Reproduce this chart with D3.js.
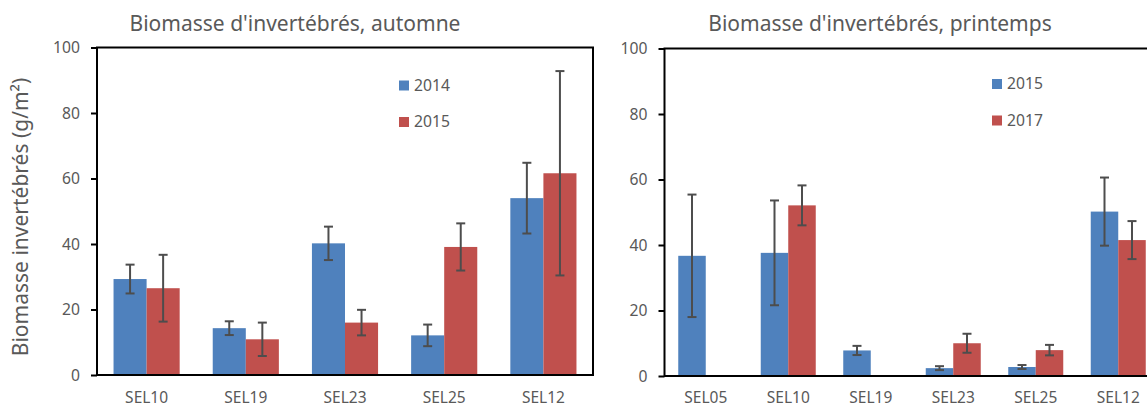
<!DOCTYPE html>
<html><head><meta charset="utf-8">
<script src="https://cdn.jsdelivr.net/npm/d3@7"></script>
<style>
html,body{margin:0;padding:0;background:#fff;}
svg text{font-family:"Noto Sans","Open Sans",sans-serif;fill:#595959;}
</style></head>
<body>
<svg id="chart" width="1147" height="407"></svg>
<script>
// ---- data ----
const autumnCategories = ["SEL10","SEL19","SEL23","SEL25","SEL12"];
const autumnSeriesNames = ["2014","2015"];
const autumn2014 = [29.3, 14.3, 40.2, 12.1, 54.0];
const autumn2014Err = [4.4, 2.1, 5.1, 3.3, 10.8];
const autumn2015 = [26.5, 10.9, 16.0, 39.1, 61.6];
const autumn2015Err = [10.2, 5.1, 3.9, 7.2, 31.2];

const springCategories = ["SEL05","SEL10","SEL19","SEL23","SEL25","SEL12"];
const springSeriesNames = ["2015","2017"];
const spring2015 = [36.7, 37.6, 7.8, 2.4, 2.75, 50.2];
const spring2015Err = [18.7, 16.0, 1.4, 0.6, 0.6, 10.4];
const spring2017 = [null, 52.1, null, 10.0, 7.9, 41.5];
const spring2017Err = [null, 6.1, null, 2.9, 1.6, 5.8];

const yTicks = [0, 20, 40, 60, 80, 100];
const titles = ["Biomasse d'invertébrés, automne", "Biomasse d'invertébrés, printemps"];
const yLabel = "Biomasse invertébrés (g/m²)";

// ---- styling ----
const colors = ["#4F81BD", "#C0504D"];
const gray = "#595959";
const errColor = "#4D4D4D";

const svg = d3.select("#chart");

function drawPanel(cfg, cats, names, vA, eA, vB, eB, title) {
  const g = svg.append("g");
  const x = d3.scaleBand().domain(cats).range([cfg.x0, cfg.x1])
    .paddingInner(1/3).paddingOuter(1/6);
  const xs = d3.scaleBand().domain([0,1]).range([0, x.bandwidth()]);
  const y = d3.scaleLinear().domain([0, 100]).range([cfg.y1, cfg.y0]);

  const rows = [];
  cats.forEach((c, i) => {
    rows.push({c, s: 0, v: vA[i], e: eA[i]});
    rows.push({c, s: 1, v: vB[i], e: eB[i]});
  });
  const valid = rows.filter(d => d.v != null);

  g.selectAll("rect.bar").data(valid).join("rect")
    .attr("class","bar")
    .attr("x", d => x(d.c) + xs(d.s))
    .attr("width", xs.bandwidth())
    .attr("y", d => y(d.v))
    .attr("height", d => y(0) - y(d.v))
    .attr("fill", d => colors[d.s]);

  // error bars
  const eb = g.selectAll("g.err").data(valid.filter(d => d.e != null)).join("g").attr("class","err")
    .attr("stroke", errColor).attr("stroke-width", 2);
  eb.append("line")
    .attr("x1", d => x(d.c) + xs(d.s) + xs.bandwidth()/2)
    .attr("x2", d => x(d.c) + xs(d.s) + xs.bandwidth()/2)
    .attr("y1", d => y(d.v + d.e)).attr("y2", d => y(d.v - d.e));
  [1, -1].forEach(sign => {
    eb.append("line")
      .attr("x1", d => x(d.c) + xs(d.s) + xs.bandwidth()/2 - 4.5)
      .attr("x2", d => x(d.c) + xs(d.s) + xs.bandwidth()/2 + 4.5)
      .attr("y1", d => y(d.v + sign*d.e)).attr("y2", d => y(d.v + sign*d.e));
  });

  // frame
  g.append("rect").attr("x", cfg.x0).attr("y", cfg.y0)
    .attr("width", cfg.x1 - cfg.x0).attr("height", cfg.y1 - cfg.y0)
    .attr("fill","none").attr("stroke","#000").attr("stroke-width",2);

  // y axis
  const ya = g.append("g").attr("transform", `translate(${cfg.x0},0)`)
    .call(d3.axisLeft(y).tickValues(yTicks).tickSize(6).tickPadding(11).tickFormat(d3.format("d")));
  ya.select(".domain").remove();
  ya.selectAll(".tick line").attr("stroke","#000").attr("stroke-width",2);
  ya.selectAll(".tick text").style("font-size","15.7px").attr("fill", gray)
    .style("font-family", '"Noto Sans", sans-serif');

  // x axis labels
  const xa = g.append("g").attr("transform", `translate(0,${cfg.y1})`)
    .call(d3.axisBottom(x).tickSize(0).tickPadding(0));
  xa.select(".domain").remove();
  xa.selectAll(".tick text").attr("y", null).attr("dy", null)
    .attr("transform", `translate(0,${cfg.labelY - cfg.y1})`)
    .style("font-size","15.5px").attr("fill", gray)
    .style("font-family", '"Noto Sans", sans-serif');

  // title
  g.append("text").attr("x", cfg.titleX).attr("y", 31).attr("text-anchor","middle")
    .style("font-size","21px").text(title);

  // legend
  names.forEach((n, i) => {
    const ly = cfg.legY + i * 36.5;
    g.append("rect").attr("x", cfg.legX).attr("y", ly - 5).attr("width", 10).attr("height", 10)
      .attr("fill", colors[i]);
    g.append("text").attr("x", cfg.legX + 15).attr("y", ly).attr("dy","0.35em")
      .style("font-size","15.7px").text(n);
  });
}

drawPanel({x0: 97, x1: 593, y0: 47.5, y1: 375, labelY: 402.5, titleX: 295, legX: 399, legY: 85.5},
  autumnCategories, autumnSeriesNames, autumn2014, autumn2014Err, autumn2015, autumn2015Err, titles[0]);
drawPanel({x0: 664.5, x1: 1159.5, y0: 48.5, y1: 376, labelY: 403, titleX: 880, legX: 992, legY: 84},
  springCategories, springSeriesNames, spring2015, spring2015Err, spring2017, spring2017Err, titles[1]);

// shared y label
svg.append("text")
  .attr("transform", "translate(21,217) rotate(-90)")
  .attr("text-anchor","middle").attr("dy","0.35em")
  .style("font-size","21px").text(yLabel);
</script>
</body></html>
